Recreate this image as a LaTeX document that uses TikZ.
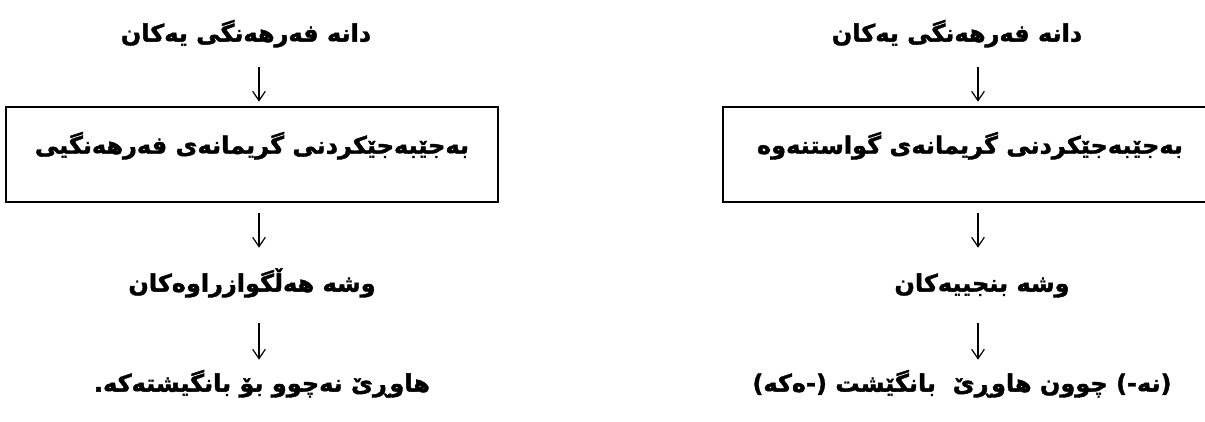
\documentclass[tikz,border=0pt]{standalone}
\usepackage{fontspec}
\newfontfamily\kurd[Script=Arabic,BoldFeatures={FakeBold=1.6}]{DejaVu Sans}
\TeXXeTstate=1
\usetikzlibrary{arrows.meta}
\newcommand{\rtl}[1]{\beginR #1\endR}

\begin{document}
\begin{tikzpicture}[x=0.75pt,y=-0.75pt,
        txt/.style={font=\kurd\bfseries\fontsize{18}{22}\selectfont,inner sep=0pt,text height=15pt,text depth=5pt},
        frame/.style={txt,draw,line width=2pt,minimum height=71.25pt,text depth=16.2pt},
        arr/.style={-{Straight Barb[length=7pt,width=9.5pt]},line width=0.9pt}]
        \useasboundingbox (0,0) rectangle (1205,421);
        % right column
        \coordinate (axR) at (978,0);
        \node[txt] (unitR) at (957,35) {\rtl{دانە فەرهەنگی یەکان}};
        \node[frame,minimum width=370.5pt] (boxR) at (970,154.5) {\rtl{بەجێبەجێکردنی گریمانەی گواستنەوە}};
        \node[txt] (wordR) at (982,285) {\rtl{وشە بنجییەکان}};
        \node[txt] (sentR) at (962,385) {\rtl{(نە-) چوون هاوڕێ\ \ بانگێشت (-ەکە)}};
        % left column
        \coordinate (axL) at (259,0);
        \node[txt] (unitL) at (246,35) {\rtl{دانە فەرهەنگی یەکان}};
        \node[frame,minimum width=369pt] (boxL) at (252,154.5) {\rtl{بەجێبەجێکردنی گریمانەی فەرهەنگیی}};
        \node[txt] (wordL) at (252,285) {\rtl{وشە هەڵگوازراوەکان}};
        \node[txt] (sentL) at (262,385) {\rtl{هاوڕێ نەچوو بۆ بانگیشتەکە.}};
        \foreach \c in {R,L}{
            \draw[arr,shorten <=14pt,shorten >=3pt] (ax\c |- unit\c.south) -- (ax\c |- box\c.north);
            \draw[arr,shorten <=7.5pt,shorten >=17.8pt] (ax\c |- box\c.south) -- (ax\c |- word\c.north);
            \draw[arr,shorten <=18.5pt,shorten >=8.8pt] (ax\c |- word\c.south) -- (ax\c |- sent\c.north);
        }
    \end{tikzpicture}
\end{document}
